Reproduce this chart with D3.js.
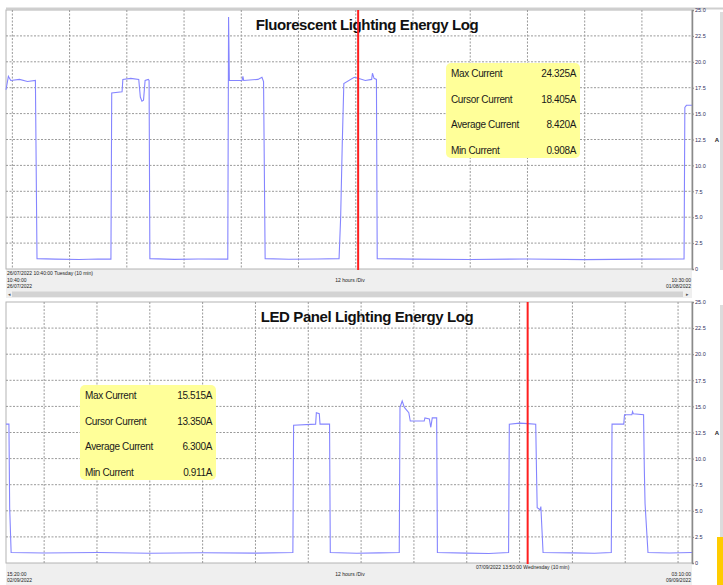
<!DOCTYPE html>
<html>
<head>
<meta charset="utf-8">
<script src="https://cdn.jsdelivr.net/npm/d3@7"></script>
<style>
  body { margin: 0; background: #fff; }
  svg { display: block; font-family: Arial, "Liberation Sans", sans-serif; }
</style>
</head>
<body>
<div id="graf"></div>
<script>
// Datos (lecturas del registrador, 10 min)
const fluoTime = [
  "2022-07-26 10:40", "2022-07-26 11:10", "2022-07-26 11:40", "2022-07-26 13:30", "2022-07-26 15:10",
  "2022-07-26 16:50", "2022-07-26 17:10", "2022-07-26 21:00", "2022-07-27 02:00", "2022-07-27 06:00",
  "2022-07-27 08:40", "2022-07-27 08:50", "2022-07-27 11:00", "2022-07-27 11:10", "2022-07-27 12:50",
  "2022-07-27 14:30", "2022-07-27 14:50", "2022-07-27 15:10", "2022-07-27 15:30", "2022-07-27 15:50",
  "2022-07-27 16:30", "2022-07-27 16:40", "2022-07-27 16:50", "2022-07-27 22:00", "2022-07-28 03:00",
  "2022-07-28 09:10", "2022-07-28 09:20", "2022-07-28 09:30", "2022-07-28 12:10", "2022-07-28 12:20",
  "2022-07-28 12:30", "2022-07-28 15:30", "2022-07-28 16:20", "2022-07-28 16:40", "2022-07-28 17:00",
  "2022-07-28 22:00", "2022-07-29 04:00", "2022-07-29 08:30", "2022-07-29 08:50", "2022-07-29 09:10",
  "2022-07-29 09:30", "2022-07-29 11:40", "2022-07-29 12:30", "2022-07-29 14:00", "2022-07-29 15:20",
  "2022-07-29 15:30", "2022-07-29 15:50", "2022-07-29 16:20", "2022-07-29 16:30", "2022-07-30 00:00",
  "2022-07-30 12:00", "2022-07-31 00:00", "2022-07-31 12:00", "2022-08-01 00:00", "2022-08-01 08:50",
  "2022-08-01 09:00", "2022-08-01 09:20", "2022-08-01 10:30"
]
const fluoAmps = [
  17.3, 18.6, 18.2, 18.3, 18.1,
  18.2, 1.0, 0.95, 0.92, 0.97,
  0.95, 17.0, 17.1, 18.3, 18.4,
  18.3, 16.6, 16.2, 16.3, 18.2,
  18.3, 18.2, 1.0, 0.93, 0.96,
  0.95, 24.325, 18.2, 18.2, 18.6,
  18.2, 18.3, 18.5, 18.1, 1.0,
  0.94, 0.96, 1.0, 5.0, 12.0,
  17.9, 18.5, 18.405, 18.2, 18.3,
  18.9, 18.4, 18.3, 1.0, 0.95,
  0.92, 0.97, 0.908, 0.95, 0.96,
  15.6, 15.8, 15.8
]

const ledTime = [
  "2022-09-02 15:20", "2022-09-02 16:00", "2022-09-02 16:10", "2022-09-02 16:30", "2022-09-03 00:00",
  "2022-09-03 12:00", "2022-09-04 00:00", "2022-09-04 12:00", "2022-09-05 00:00", "2022-09-05 08:30",
  "2022-09-05 08:40", "2022-09-05 13:40", "2022-09-05 13:50", "2022-09-05 14:30", "2022-09-05 14:40",
  "2022-09-05 16:50", "2022-09-05 17:00", "2022-09-05 23:00", "2022-09-06 04:00", "2022-09-06 08:40",
  "2022-09-06 08:50", "2022-09-06 09:20", "2022-09-06 09:50", "2022-09-06 10:50", "2022-09-06 11:10",
  "2022-09-06 14:20", "2022-09-06 14:30", "2022-09-06 15:30", "2022-09-06 15:50", "2022-09-06 16:10",
  "2022-09-06 17:10", "2022-09-06 17:20", "2022-09-07 00:00", "2022-09-07 05:00", "2022-09-07 09:30",
  "2022-09-07 09:40", "2022-09-07 12:00", "2022-09-07 13:50", "2022-09-07 15:40", "2022-09-07 15:50",
  "2022-09-07 16:00", "2022-09-07 16:40", "2022-09-07 16:50", "2022-09-07 17:20", "2022-09-08 00:00",
  "2022-09-08 05:00", "2022-09-08 08:50", "2022-09-08 09:00", "2022-09-08 11:40", "2022-09-08 11:50",
  "2022-09-08 13:30", "2022-09-08 13:40", "2022-09-08 13:50", "2022-09-08 16:10", "2022-09-08 16:20",
  "2022-09-08 16:30", "2022-09-08 17:10", "2022-09-08 22:00", "2022-09-09 03:10"
]
const ledAmps = [
  13.3, 13.3, 5.3, 1.0, 0.96,
  1.0, 0.93, 0.98, 0.95, 1.0,
  13.2, 13.3, 14.4, 14.3, 13.3,
  13.3, 1.0, 0.94, 0.97, 1.0,
  14.9, 15.515, 14.9, 14.4, 13.6,
  13.6, 13.9, 13.8, 13.0, 13.9,
  13.9, 1.0, 0.95, 0.911, 1.0,
  13.3, 13.4, 13.35, 13.3, 9.0,
  5.3, 5.1, 5.4, 1.0, 0.97,
  0.94, 1.0, 13.3, 13.3, 14.2,
  14.2, 14.5, 14.3, 14.2, 9.0,
  5.7, 1.0, 0.96, 1.0
]

const statLabels = ["Max Current", "Cursor Current", "Average Current", "Min Current"]
const fluoStats = ["24.325A", "18.405A", "8.420A", "0.908A"]
const ledStats = ["15.515A", "13.350A", "6.300A", "0.911A"]
const ampTicks = [0, 2.5, 5, 7.5, 10, 12.5, 15, 17.5, 20, 22.5, 25]

// Selecciones y dimensiones
const anchoTotal = 723
const altoTotal = 585
const parse = d3.timeParse("%Y-%m-%d %H:%M")
const traceColor = "#8585ff"

const svg = d3.select("#graf")
  .append("svg")
  .attr("width", anchoTotal)
  .attr("height", altoTotal)

const drawPanel = (p) => {
  const datos = p.times.map((t, i) => ({ t: parse(t), a: p.amps[i] }))
  const x = d3.scaleTime().domain([parse(p.start), parse(p.end)]).range([6, 692])
  const y = d3.scaleLinear().domain([0, 25]).range([p.bottom, p.top])

  const g = svg.append("g")

  // franja inferior gris (eje de tiempo)
  g.append("rect")
    .attr("x", 6).attr("y", p.bottom)
    .attr("width", 686).attr("height", p.stripH)
    .attr("fill", "#efefef")

  // area del grafico
  g.append("rect")
    .attr("x", 6).attr("y", p.top)
    .attr("width", 686).attr("height", p.bottom - p.top)
    .attr("fill", "#fff")
    .attr("stroke", "#b4b4b4")

  // rejilla
  g.append("g").selectAll("line")
    .data(x.ticks(d3.timeHour.every(12)))
    .join("line")
    .attr("x1", (d) => x(d)).attr("x2", (d) => x(d))
    .attr("y1", p.top).attr("y2", p.bottom)
    .attr("stroke", "#9a9a9a")
    .attr("stroke-dasharray", "2,1.5")

  g.append("g").selectAll("line")
    .data(ampTicks.slice(1, -1))
    .join("line")
    .attr("x1", 6).attr("x2", 692)
    .attr("y1", (d) => y(d)).attr("y2", (d) => y(d))
    .attr("stroke", "#9a9a9a")
    .attr("stroke-dasharray", "2,1.5")

  // titulo
  g.append("text")
    .attr("x", 367).attr("y", p.top + 20)
    .attr("text-anchor", "middle")
    .attr("font-size", 15)
    .attr("font-weight", "bold")
    .attr("letter-spacing", -0.4)
    .attr("fill", "#111")
    .text(p.title)

  // traza
  const line = d3.line().x((d) => x(d.t)).y((d) => y(d.a))
  g.append("path")
    .datum(datos)
    .attr("d", line)
    .attr("fill", "none")
    .attr("stroke", traceColor)
    .attr("stroke-width", 1.1)

  // cursor
  g.append("line")
    .attr("x1", x(parse(p.cursor))).attr("x2", x(parse(p.cursor)))
    .attr("y1", p.top).attr("y2", p.bottom + 1)
    .attr("stroke", "#ff1f1f")
    .attr("stroke-width", 2)

  // eje derecho
  const yAxis = d3.axisRight(y)
    .tickValues(ampTicks)
    .tickSize(2)
    .tickPadding(1)
    .tickFormat((d) => (d === 0 ? "0" : d3.format(".1f")(d)))
  const ax = g.append("g")
    .attr("transform", `translate(692, 0)`)
    .call(yAxis)
  ax.select(".domain").attr("stroke", "#8a8a8a").attr("stroke-width", 1.5)
  ax.selectAll(".tick line").attr("stroke", "#8a8a8a")
  ax.selectAll(".tick text")
    .attr("font-size", 5.5)
    .attr("font-family", "Arial, sans-serif")
    .attr("fill", "#2e2e5a")

  g.append("text")
    .attr("x", 717).attr("y", y(12.5) + 2)
    .attr("text-anchor", "middle")
    .attr("font-size", 6)
    .attr("font-weight", "bold")
    .attr("fill", "#222")
    .text("A")

  // caja de estadisticas
  const box = g.append("g").attr("transform", `translate(${p.boxX}, ${p.boxY})`)
  box.append("rect")
    .attr("width", p.boxW).attr("height", 95)
    .attr("rx", 5)
    .attr("fill", "#ffff99")
  box.selectAll("text.lbl")
    .data(statLabels)
    .join("text")
    .attr("class", "lbl")
    .attr("x", 5)
    .attr("y", (d, i) => 14 + i * 25.6)
    .attr("font-size", 10)
    .attr("letter-spacing", -0.35)
    .attr("fill", "#1a1a1a")
    .text((d) => d)
  box.selectAll("text.val")
    .data(p.stats)
    .join("text")
    .attr("class", "val")
    .attr("x", p.boxW - 4)
    .attr("y", (d, i) => 14 + i * 25.6)
    .attr("text-anchor", "end")
    .attr("font-size", 10)
    .attr("letter-spacing", -0.35)
    .attr("fill", "#1a1a1a")
    .text((d) => d)

  // textos de la franja inferior
  const small = (tx, ty, s, anchor) =>
    g.append("text")
      .attr("x", tx).attr("y", ty)
      .attr("text-anchor", anchor || "start")
      .attr("font-size", 5)
      .attr("fill", "#222")
      .text(s)

  small(p.cursorTextX, p.bottom + 6, p.cursorText)
  small(7, p.bottom + 13, p.startLabel[0])
  small(7, p.bottom + 18.5, p.startLabel[1])
  small(691, p.bottom + 13, p.endLabel[0], "end")
  small(691, p.bottom + 18.5, p.endLabel[1], "end")
  small(350, p.bottom + 13, "12 hours /Div", "middle")
}

// marcos generales
svg.append("line")
  .attr("x1", 6).attr("x2", 723)
  .attr("y1", 8.5).attr("y2", 8.5)
  .attr("stroke", "#cfcfcf").attr("stroke-width", 2)

drawPanel({
  title: "Fluorescent Lighting Energy Log",
  times: fluoTime, amps: fluoAmps, stats: fluoStats,
  start: "2022-07-26 10:40", end: "2022-08-01 10:30", cursor: "2022-07-29 12:30",
  top: 10, bottom: 269, stripH: 29,
  boxX: 446, boxY: 63, boxW: 134,
  cursorText: "26/07/2022 10:40:00 Tuesday (10 min)", cursorTextX: 7,
  startLabel: ["10:40:00", "26/07/2022"], endLabel: ["10:30:00", "01/08/2022"]
})

// barra de desplazamiento
svg.append("rect")
  .attr("x", 12).attr("y", 291.5).attr("width", 671).attr("height", 5.5)
  .attr("fill", "#d3d3d3")
svg.append("text").attr("x", 8).attr("y", 296).attr("font-size", 5).attr("fill", "#555").text("◂")
svg.append("text").attr("x", 686).attr("y", 296).attr("font-size", 5).attr("fill", "#555").text("▸")

drawPanel({
  title: "LED Panel Lighting Energy Log",
  times: ledTime, amps: ledAmps, stats: ledStats,
  start: "2022-09-02 15:20", end: "2022-09-09 03:10", cursor: "2022-09-07 13:50",
  top: 302, bottom: 563, stripH: 22,
  boxX: 80, boxY: 385, boxW: 136,
  cursorText: "07/09/2022 13:50:00 Wednesday (10 min)", cursorTextX: 476,
  startLabel: ["15:20:00", "02/09/2022"], endLabel: ["03:10:00", "09/09/2022"]
})

// franjas laterales derechas
svg.append("rect").attr("x", 720).attr("y", 12).attr("width", 3).attr("height", 258).attr("fill", "#dcdcdc")
svg.append("rect").attr("x", 720).attr("y", 305).attr("width", 3).attr("height", 232).attr("fill", "#dcdcdc")
svg.append("rect").attr("x", 717).attr("y", 537).attr("width", 6).attr("height", 48).attr("fill", "#ffcc00")
</script>
</body>
</html>
